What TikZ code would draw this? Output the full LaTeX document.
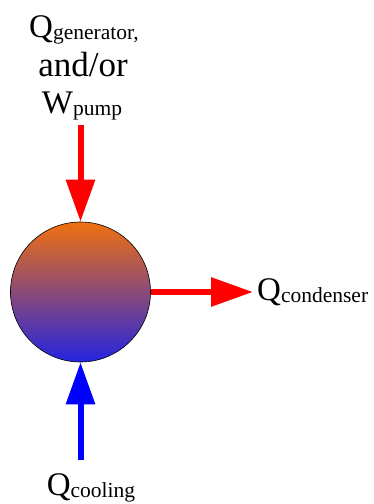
\documentclass[tikz,border=0pt]{standalone}
\usepackage{fontspec}
\setmainfont{Liberation Serif}
\usetikzlibrary{arrows.meta}
\definecolor{topc}{RGB}{240,112,16}
\definecolor{botc}{RGB}{36,36,224}
\newcommand{\bigQ}[2]{{\fontsize{33}{39}\selectfont #1\raisebox{-2pt}{\fontsize{21.5}{25}\selectfont #2}}}
\tikzset{
  flowred/.style={draw=red,line width=6pt,-{Triangle[width=28pt,length=42pt]}},
  flowblue/.style={draw=blue,line width=6pt,-{Triangle[width=28pt,length=42pt]}},
  lab/.style={inner sep=0pt,anchor=base},
  ball/.style={circle,draw=black,line width=0.6pt,minimum size=140pt,inner sep=0pt,top color=topc,bottom color=botc}
}
\begin{document}
\begin{tikzpicture}[x=1pt,y=-1pt]
\useasboundingbox (0,0) rectangle (373,504);
\node[ball] (c) at (80.5,292) {};
\node[lab] (gen) at (84,37) {\bigQ{Q}{generator,}};
\node[lab] (andor) at (83,76) {\fontsize{35}{40}\selectfont and/or};
\node[lab] (pump) at (82,113) {\bigQ{W}{pump}};
\node[lab,anchor=base west] (cond) at (257,300) {\bigQ{Q}{condenser}};
\node[lab] (cool) at (91,495) {\bigQ{Q}{cooling}};
\coordinate (topstart) at (80.5,125);
\coordinate (botstart) at (80.5,460);
\coordinate (condend) at (253,292);
\draw[flowred] (topstart) -- (c.north);
\draw[flowred,line cap=butt] (c.east) -- (condend);
\draw[flowblue] (botstart) -- (c.south);
\end{tikzpicture}
\end{document}
